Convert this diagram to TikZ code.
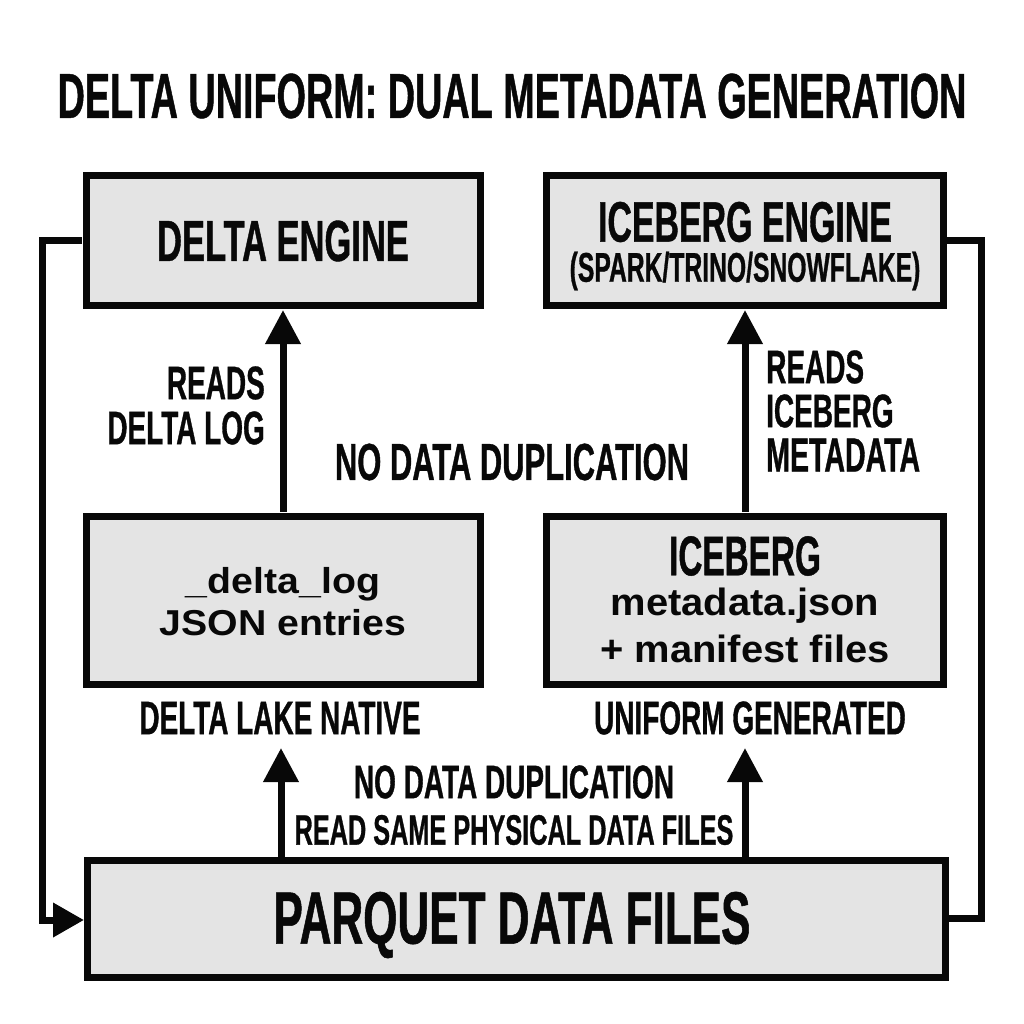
\documentclass[tikz,border=0pt]{standalone}
\usepackage{fontspec}
\setmainfont{Liberation Sans}
\newfontfamily\cond{Liberation Sans Bold}[FakeStretch=0.595,FakeBold=0.7]
\newfontfamily\plainb{Liberation Sans Bold}[FakeStretch=1.09]
\newfontfamily\plainc{Liberation Sans Bold}[FakeStretch=1.05]
\usetikzlibrary{arrows.meta}
\definecolor{boxfill}{RGB}{228,228,228}
\definecolor{ink}{RGB}{8,8,8}
\tikzset{x=1pt,y=-1pt,
 boxn/.style={draw=ink,line width=7pt,fill=boxfill,inner sep=0,minimum width=#1},
 lab/.style={text=ink,inner sep=0,align=center},
 conn/.style={draw=ink,line width=7pt},
 arr/.style={conn,-{Triangle[length=34pt,width=34pt]}}}
\newcommand{\fsz}[1]{\fontsize{#1}{#1}\selectfont}
\begin{document}
\begin{tikzpicture}
\useasboundingbox (0,0) rectangle (1024,1024);
\fill[white] (0,0) rectangle (1024,1024);
\node[lab,font=\cond\fsz{63.5}] (title) at (512,96) {DELTA UNIFORM: DUAL METADATA GENERATION};
\node[boxn=394pt,minimum height=129pt] (de) at (283,240.5) {};
\node[lab,font=\cond\fsz{58}] (det) at (283,241) {DELTA ENGINE};
\node[boxn=397pt,minimum height=129pt] (ie) at (745,240.5) {};
\node[lab,font=\cond\fsz{57}] (iet) at (745,222) {ICEBERG ENGINE};
\node[lab,font=\cond\fsz{41.5}] (ies) at (745,271) {(SPARK/TRINO/SNOWFLAKE)};
\node[boxn=394pt,minimum height=168pt] (dl) at (283,600) {};
\node[lab,font=\plainb\fsz{36},align=center] (dlt) at (283,602) {\_delta\_log\\[6pt]JSON entries};
\node[boxn=397pt,minimum height=168pt] (il) at (745,600) {};
\node[lab,font=\cond\fsz{56}] (ilt) at (745,556) {ICEBERG};
\node[lab,font=\plainc\fsz{38}] (ils) at (745,606) {metadata.json};
\node[lab,font=\plainc\fsz{38}] (ilm) at (745,649) {+ manifest files};
\node[boxn=858pt,minimum height=117pt] (pq) at (516,919) {};
\node[lab,font=\cond\fsz{74}] (pqt) at (512,925) {PARQUET DATA FILES};
\node[lab,font=\cond\fsz{47}] (dn) at (280,718) {DELTA LAKE NATIVE};
\node[lab,font=\cond\fsz{47}] (ug) at (750,718) {UNIFORM GENERATED};
\node[lab,font=\cond\fsz{47},anchor=east] (r1) at (265,383) {READS};
\node[lab,font=\cond\fsz{47},anchor=east] (r2) at (265,428) {DELTA LOG};
\node[lab,font=\cond\fsz{47},anchor=west] (r3) at (766,367) {READS};
\node[lab,font=\cond\fsz{47},anchor=west] (r4) at (766,411) {ICEBERG};
\node[lab,font=\cond\fsz{48},anchor=west] (r5) at (766,455) {METADATA};
\node[lab,font=\cond\fsz{52}] (nd1) at (512,462) {NO DATA DUPLICATION};
\node[lab,font=\cond\fsz{47}] (nd2) at (514,782) {NO DATA DUPLICATION};
\node[lab,font=\cond\fsz{42.5}] (rs) at (514,830) {READ SAME PHYSICAL DATA FILES};
\coordinate (dea) at (283,310);\coordinate (dla) at (283,512);
\coordinate (iea) at (745,310);\coordinate (ila) at (745,512);
\draw[arr] (dla) -- (dea);
\draw[arr] (ila) -- (iea);
\coordinate (p1) at (281,858);\coordinate (p1t) at (281,748);
\coordinate (p2) at (745,858);\coordinate (p2t) at (745,748);
\draw[arr] (p1) -- (p1t);
\draw[arr] (p2) -- (p2t);
\coordinate (l1) at (82,240);\coordinate (l2) at (42.5,240);\coordinate (l3) at (42.5,920);\coordinate (l4) at (84,920);
\draw[conn,line join=miter,-{Triangle[length=31pt,width=33pt]}] (l1) -- (l2) -- (l3) -- (l4);
\coordinate (r6) at (946,240.5);\coordinate (r7) at (981.5,240.5);\coordinate (r8) at (981.5,918);\coordinate (r9) at (946,918);
\draw[conn,line join=miter] (r6) -- (r7) -- (r8) -- (r9);
\end{tikzpicture}
\end{document}
